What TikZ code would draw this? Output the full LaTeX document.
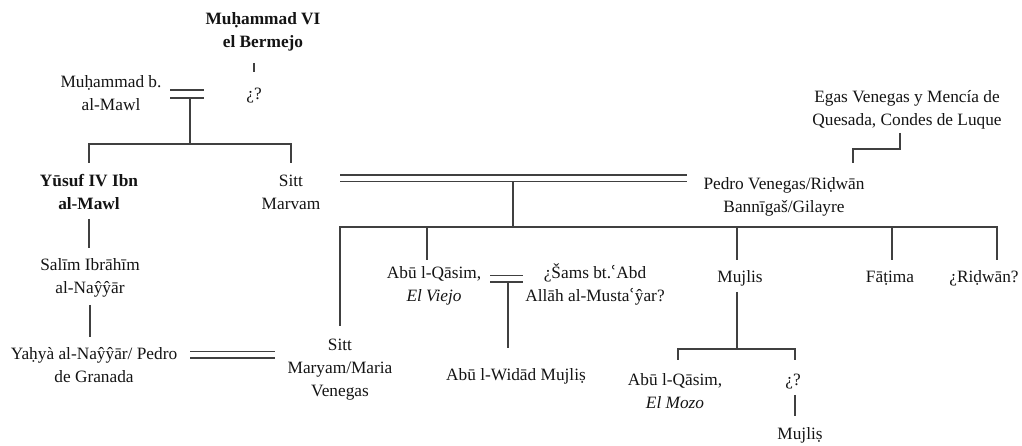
\documentclass[tikz,border=0pt]{standalone}
\usepackage{fontspec}
\setmainfont{Liberation Serif}
\newfontfamily\dvs{DejaVu Serif}
\newcommand\ain{{\dvs ʿ}}
\newcommand\ml[1]{\begin{tabular}[t]{@{}c@{}}#1\end{tabular}}
\begin{document}
\begin{tikzpicture}[x=1pt,y=-1pt,
  p/.style={anchor=base,inner sep=0pt,outer sep=0pt,text=black!92,font=\fontsize{17.3}{23}\selectfont},
  ln/.style={draw=black!75,line width=1.5pt},
  mar/.style={draw=black!75,line width=1.6pt,double=white,double distance=4.8pt}]
\useasboundingbox[fill=white] (0,0) rectangle (1022,446);
% people
\node[p] (bermejo) at (263,25) {\bfseries\ml{Muḥammad VI\\el Bermejo}};
\node[p] (q1) at (254,100) {\ml{¿?}};
\node[p] (mb) at (111,88) {\ml{Muḥammad b.\\al-Mawl}};
\node[p] (yusuf) at (89,187) {\bfseries\ml{Yūsuf IV Ibn\\al-Mawl}};
\node[p] (marvam) at (291,187) {\ml{Sitt\\Marvam}};
\node[p] (salim) at (90,270) {\ml{Salīm Ibrāhīm\\al-Naŷŷār}};
\node[p] (yahya) at (94,359) {\ml{Yaḥyà al-Naŷŷār/ Pedro\\de Granada}};
\node[p] (maryam) at (340,350) {\ml{Sitt\\Maryam/Maria\\Venegas}};
\node[p] (egas) at (907,103) {\ml{Egas Venegas y Mencía de\\Quesada, Condes de Luque}};
\node[p] (pedro) at (784,190) {\ml{Pedro Venegas/Riḍwān\\Bannīgaš/Gilayre}};
\node[p] (viejo) at (434,278) {\ml{Abū l-Qāsim,\\\textit{El Viejo}}};
\node[p] (sams) at (595,278) {\ml{¿Šams bt.\ain Abd\\Allāh al-Musta\ain ŷar?}};
\node[p] (widad) at (516,380) {\ml{Abū l-Widād Mujliṣ}};
\node[p] (mujlis) at (740,282) {\ml{Mujlis}};
\node[p] (fatima) at (890,282) {\ml{Fāṭima}};
\node[p] (ridwan) at (984,282) {\ml{¿Riḍwān?}};
\node[p] (mozo) at (675,385) {\ml{Abū l-Qāsim,\\\textit{El Mozo}}};
\node[p] (q2) at (793,385) {\ml{¿?}};
\node[p] (mujlis2) at (800,439) {\ml{Mujliṣ}};
% junctions
\coordinate (m1a) at (170,94);
\coordinate (m1b) at (204,94);
\coordinate (m1c) at (190,94);
\coordinate (k1) at (190,144);
\coordinate (m2a) at (190,354.5);
\coordinate (m2b) at (275,354.5);
\coordinate (m3a) at (340,178.5);
\coordinate (m3b) at (687,178.5);
\coordinate (m3c) at (513,178.5);
\coordinate (k3) at (513,227);
\coordinate (e1) at (853,163);
\coordinate (m4a) at (490,278.5);
\coordinate (m4b) at (523,278.5);
\coordinate (m4c) at (508,278.5);
\coordinate (k5) at (737,349);
% connectors
\draw[ln,shorten <=8pt,shorten >=12pt] (bermejo.south -| q1.north) -- (q1.north);
\draw[ln] (m1c) -- (k1);
\draw[mar,double distance=6pt] (m1a) -- (m1b);
\draw[ln,shorten >=8pt] (k1) -| (yusuf.north);
\draw[ln,shorten >=8pt] (k1) -| (marvam.north);
\draw[ln,shorten <=2pt,shorten >=6pt] (yusuf.south) -- (yusuf.south |- salim.north);
\draw[ln,shorten <=5pt,shorten >=6pt] (salim.south) -- (salim.south |- yahya.north);
\draw[mar] (m2a) -- (m2b);
\draw[ln] (m3c) -- (k3);
\draw[mar] (m3a) -- (m3b);
\draw[ln,shorten >=8pt] (k3) -| (maryam.north);
\draw[ln,shorten >=2pt] (k3) -| ([xshift=-7pt]viejo.north);
\draw[ln,shorten >=6pt] (k3) -| ([xshift=-3pt]mujlis.north);
\draw[ln,shorten >=6pt] (k3) -| ([xshift=2pt]fatima.north);
\draw[ln,shorten >=6pt] (k3) -| ([xshift=13pt]ridwan.north);
\draw[ln] ([xshift=-7pt]egas.south) -- ++(0,16) -| (e1);
\draw[ln,shorten >=16pt] (m4c) -- (m4c |- widad.north);
\draw[mar] (m4a) -- (m4b);
\draw[ln,shorten <=3pt] ([xshift=-3pt]mujlis.south) -- (k5);
\draw[ln,shorten >=9pt] (k5) -| ([xshift=3pt]mozo.north);
\draw[ln,shorten >=9pt] (k5) -| ([xshift=2pt]q2.north);
\draw[ln,shorten <=3pt,shorten >=7pt] ([xshift=2pt]q2.south) -- ([xshift=2pt]q2.south |- mujlis2.north);
\end{tikzpicture}
\end{document}
